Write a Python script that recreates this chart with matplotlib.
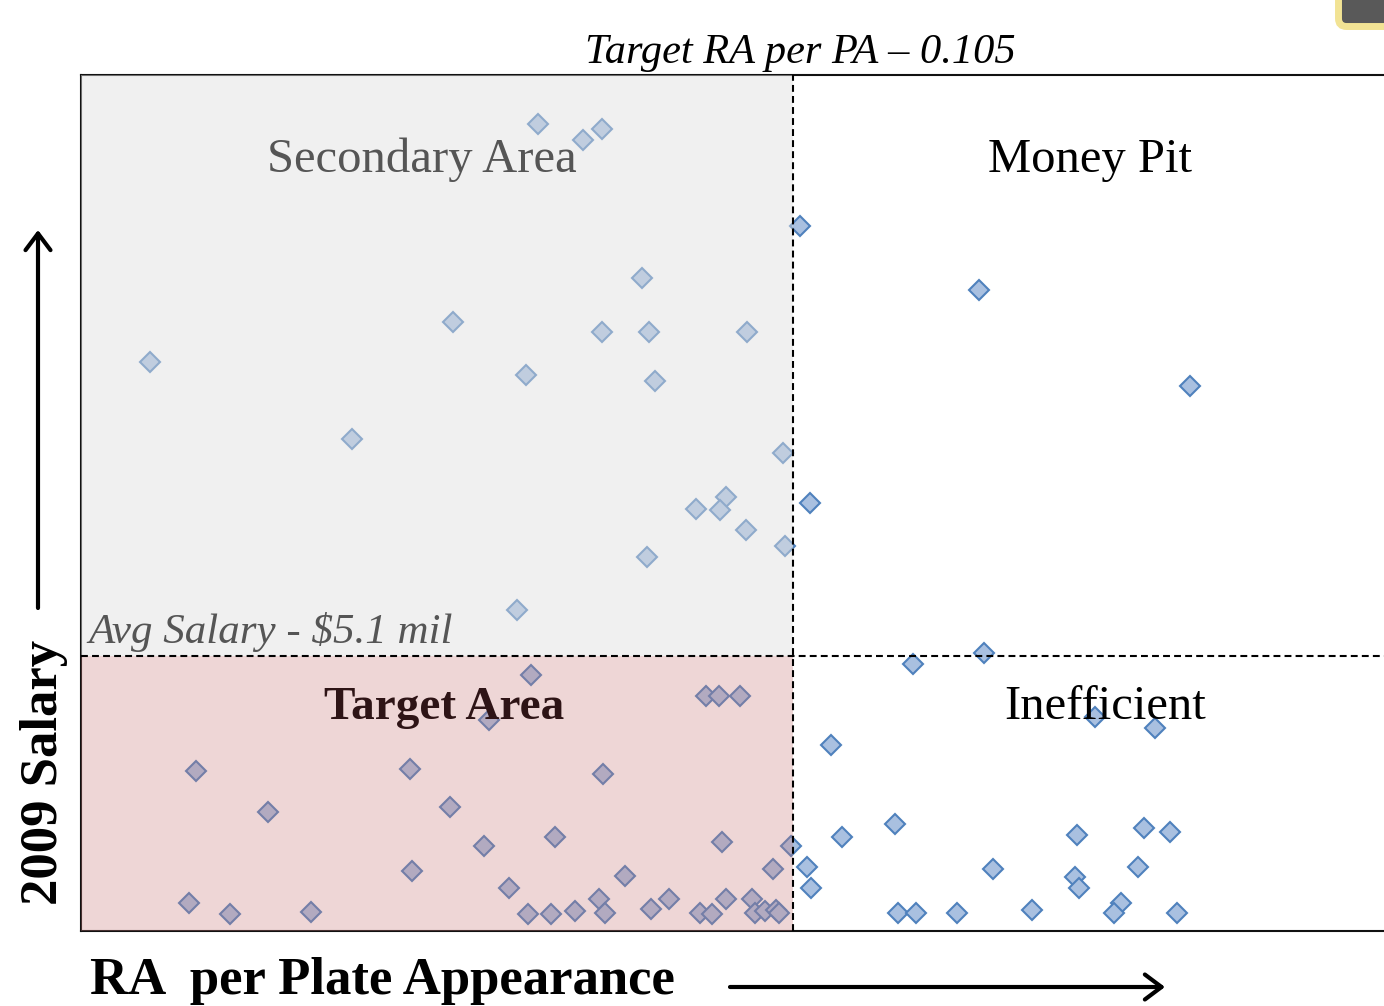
import matplotlib
matplotlib.use('Agg')
import matplotlib.pyplot as plt
from matplotlib.patches import Rectangle, FancyBboxPatch, FancyArrowPatch

# ---- data (RA per plate appearance, 2009 salary in $ millions) ----
ra_per_pa = [
    0.0795, 0.0840, 0.0859, 0.0899, 0.0710, 0.0859, 0.0906, 0.1004, 0.0407, 0.0783,
    0.0912, 0.0609, 0.1040, 0.0983, 0.0953, 0.0977, 0.1003, 0.1042, 0.0904, 0.0774,
    0.1057, 0.1236, 0.1447, 0.1067, 0.1241, 0.1170,
    0.0788, 0.0963, 0.0976, 0.0997, 0.0746, 0.0453, 0.0667, 0.0860, 0.0525, 0.0707,
    0.0741, 0.0812, 0.0979, 0.1048, 0.0669, 0.0882, 0.1030, 0.0766, 0.0446, 0.0487,
    0.0568, 0.0785, 0.0808, 0.0832, 0.0856, 0.0862, 0.0908, 0.0926, 0.0957, 0.0969,
    0.0983, 0.1009, 0.1012, 0.1022, 0.1033, 0.1036,
    0.1352, 0.1412, 0.1088, 0.1152, 0.1099, 0.1334, 0.1401, 0.1427, 0.1064, 0.1250,
    0.1395, 0.1332, 0.1336, 0.1068, 0.1378, 0.1371, 0.1155, 0.1173, 0.1214, 0.1289,
    0.1434,
]
salary_mil = [
    14.97, 14.67, 14.87, 12.11, 11.29, 11.11, 11.11, 11.11, 10.55, 10.31,
    10.20, 9.12, 8.86, 8.05, 7.83, 7.81, 7.44, 7.14, 6.94, 5.95,
    13.07, 11.89, 10.11, 7.94, 5.16, 4.95,
    4.75, 4.36, 4.36, 4.36, 3.91, 2.97, 3.00, 2.91, 2.21, 2.30,
    1.58, 1.74, 1.65, 1.58, 1.11, 1.02, 1.15, 0.80, 0.52, 0.32,
    0.35, 0.32, 0.32, 0.37, 0.59, 0.33, 0.41, 0.59, 0.33, 0.32,
    0.59, 0.59, 0.33, 0.37, 0.39, 0.33,
    3.97, 3.76, 3.45, 1.98, 1.74, 1.78, 1.91, 1.84, 1.19, 1.15,
    1.19, 1.00, 0.80, 0.80, 0.52, 0.33, 0.33, 0.33, 0.33, 0.39,
    0.33,
]
target_ra = 0.105
avg_salary = 5.1
quadrant_labels = ["Secondary Area", "Money Pit", "Target Area", "Inefficient"]
title_text = "Target RA per PA \u2013 0.105"
avg_text = "Avg Salary - $5.1 mil"
x_label = "RA  per Plate Appearance"
y_label = "2009 Salary"

W, H = 1384, 1006
plt.rcParams['font.family'] = ['Liberation Serif', 'DejaVu Serif']
fig = plt.figure(figsize=(W / 100, H / 100), dpi=100)
fig.patch.set_facecolor('white')

ax = fig.add_axes([81 / W, (H - 931) / H, (W - 81) / W, (931 - 75) / H])
xmin, xmax = 0.0338, 0.1641
ymin, ymax = 0.0, 15.875
ax.set_xlim(xmin, xmax)
ax.set_ylim(ymin, ymax)
ax.set_xticks([])
ax.set_yticks([])
ax.spines['right'].set_visible(False)
for s in ['left', 'top', 'bottom']:
    ax.spines[s].set_linewidth(1.5)
    ax.spines[s].set_color('#111111')

ax.plot(ra_per_pa, salary_mil, linestyle='none', marker='D', ms=10,
        mfc='#a9c0e0', mec='#4f81bd', mew=1.5, zorder=2)

# shaded quadrants (drawn over the markers, semi-transparent)
ax.add_patch(Rectangle((xmin, avg_salary), target_ra - xmin, ymax - avg_salary,
                       fc=(0.87, 0.87, 0.87), alpha=0.45, lw=0, zorder=3))
ax.add_patch(Rectangle((xmin, ymin), target_ra - xmin, avg_salary - ymin,
                       fc=(0.78, 0.47, 0.47), alpha=0.30, lw=0, zorder=3))

ax.axvline(target_ra, color='k', ls=(0, (3.3, 2.0)), lw=1.5, zorder=4)
ax.axhline(avg_salary, color='k', ls=(0, (3.3, 2.0)), lw=1.5, zorder=4)


def ptext(px, py, s, **kw):
    fig.text(px / W, 1 - py / H, s, rotation_mode='anchor', **kw)


ptext(800, 63, title_text, ha='center', va='baseline', fontsize=30.5,
      style='italic', color='black')
ptext(422, 172, quadrant_labels[0], ha='center', va='baseline', fontsize=35,
      color='#555555')
ptext(1090, 172, quadrant_labels[1], ha='center', va='baseline', fontsize=35,
      color='black')
ptext(444, 719, quadrant_labels[2], ha='center', va='baseline', fontsize=34,
      fontweight='bold', color='#2e1416')
ptext(1105, 719, quadrant_labels[3], ha='center', va='baseline', fontsize=35,
      color='black')
ptext(88, 643, avg_text, ha='left', va='baseline', fontsize=31,
      style='italic', color='#555555')
ptext(90, 994, x_label, ha='left', va='baseline', fontsize=38,
      fontweight='bold', color='black')
ptext(57, 772, y_label, ha='center', va='baseline', fontsize=38,
      fontweight='bold', color='black', rotation=90)

# arrows
arrow_kw = dict(transform=fig.dpi_scale_trans, arrowstyle='->,head_length=0.6,head_width=0.45',
                mutation_scale=20, lw=3.0, color='black', shrinkA=0, shrinkB=0)
fig.add_artist(FancyArrowPatch((0.38, (H - 608) / 100), (0.38, (H - 230) / 100), **arrow_kw))
fig.add_artist(FancyArrowPatch((7.30, (H - 987) / 100), (11.65, (H - 987) / 100), **arrow_kw))

# top-right corner widget
fig.add_artist(FancyBboxPatch((1338.5 / 100, (H - 26.5) / 100), 1.0, 1.0,
                              boxstyle='round,pad=0,rounding_size=0.08',
                              transform=fig.dpi_scale_trans,
                              fc='#595959', ec='#f2e394', lw=5))

fig.savefig('out.png', dpi=100)
